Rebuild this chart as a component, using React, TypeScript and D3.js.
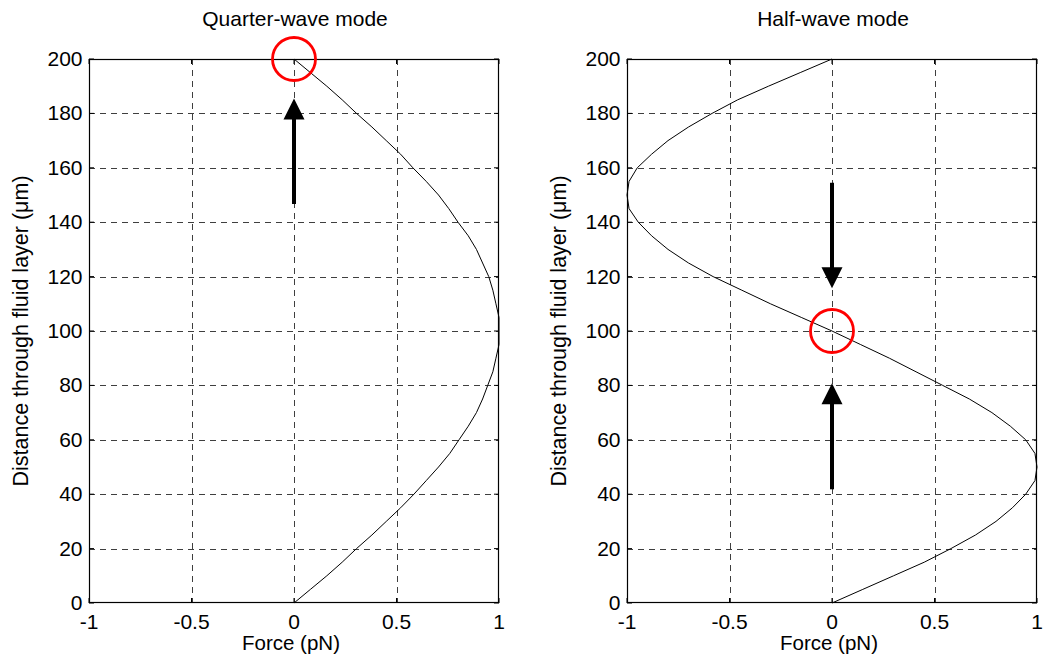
import React from "react";
import * as d3 from "d3";

const depth = [0,5,10,15,20,25,30,35,40,45,50,55,60,65,70,75,80,85,90,95,100,105,110,115,120,125,130,135,140,145,150,155,160,165,170,175,180,185,190,195,200];
const quarterForce = [0,0.08,0.16,0.235,0.305,0.38,0.45,0.52,0.585,0.645,0.705,0.76,0.805,0.85,0.89,0.92,0.945,0.97,0.985,1.0,1.0,1.0,0.985,0.97,0.95,0.92,0.89,0.85,0.8,0.755,0.705,0.645,0.58,0.52,0.45,0.38,0.305,0.235,0.16,0.08,0];
const halfForce = [0,0.15,0.3,0.45,0.58,0.7,0.8,0.88,0.945,0.99,1.0,0.99,0.945,0.87,0.78,0.67,0.54,0.41,0.28,0.14,0,-0.15,-0.3,-0.44,-0.58,-0.7,-0.8,-0.88,-0.945,-0.99,-1.0,-0.99,-0.95,-0.88,-0.8,-0.7,-0.585,-0.46,-0.31,-0.155,0];

const xTicks = [-1,-0.5,0,0.5,1];
const xTickLabels = ["-1","-0.5","0","0.5","1"];
const yTicks = [0,20,40,60,80,100,120,140,160,180,200];

const titles = ["Quarter-wave mode","Half-wave mode"];
const xLabel = "Force (pN)";
const yLabel = "Distance through fluid layer (\u03bcm)";

// annotations in data units: arrows (x, from depth, to depth) and circles (x, depth)
const quarterArrows = [{ x: 0, from: 146.7, to: 185.5 }];
const halfArrows = [{ x: 0, from: 154.5, to: 115.7 }, { x: 0, from: 41.8, to: 80.8 }];
const quarterCircles = [{ x: 0, y: 200 }];
const halfCircles = [{ x: 0, y: 100 }];

const FONT = "'Liberation Sans', Arial, Helvetica, sans-serif";

type Arrow = { x: number; from: number; to: number };
type Circle = { x: number; y: number };

function Panel({ left, title, values, arrows, circles }: { left: number; title: string; values: number[]; arrows: Arrow[]; circles: Circle[] }) {
  const width = 410;
  const top = 59;
  const bottom = 603;
  const x = d3.scaleLinear().domain([-1, 1]).range([left, left + width]);
  const y = d3.scaleLinear().domain([0, 200]).range([bottom, top]);
  const pts: [number, number][] = depth.map((d, i) => [values[i], d]);
  const line = d3.line<[number, number]>().x((p) => x(p[0])).y((p) => y(p[1]));
  const cx = (left + left + width) / 2;
  const headL = 21;
  const headW = 10.5;
  return (
    <g>
      <text x={cx + 1} y={26} textAnchor="middle" fontSize={21} fontFamily={FONT}>{title}</text>
      <rect x={left} y={top} width={width} height={bottom - top} fill="#fff" />
      {/* grid */}
      {xTicks.slice(1, -1).map((t) => (
        <line key={"gx" + t} x1={Math.round(x(t)) + 0.5} x2={Math.round(x(t)) + 0.5} y1={top} y2={bottom} stroke="#000" strokeWidth={1} strokeDasharray="6,5" opacity={0.75} />
      ))}
      {yTicks.slice(1, -1).map((t) => (
        <line key={"gy" + t} x1={left} x2={left + width} y1={Math.round(y(t)) + 0.5} y2={Math.round(y(t)) + 0.5} stroke="#000" strokeWidth={1} strokeDasharray="6,5" opacity={0.75} />
      ))}
      {/* ticks */}
      {xTicks.map((t) => (
        <g key={"tx" + t}>
          <line x1={x(t)} x2={x(t)} y1={bottom} y2={bottom - 5} stroke="#000" />
          <line x1={x(t)} x2={x(t)} y1={top} y2={top + 5} stroke="#000" />
        </g>
      ))}
      {yTicks.map((t) => (
        <g key={"ty" + t}>
          <line x1={left} x2={left + 5} y1={y(t)} y2={y(t)} stroke="#000" />
          <line x1={left + width} x2={left + width - 5} y1={y(t)} y2={y(t)} stroke="#000" />
        </g>
      ))}
      {/* curve */}
      <path d={line(pts) || ""} fill="none" stroke="#000" strokeWidth={1} />
      {/* arrows */}
      {arrows.map((a, i) => {
        const ax = x(a.x);
        const y0 = y(a.from);
        const y1 = y(a.to);
        const dir = y1 < y0 ? -1 : 1;
        const base = y1 - dir * headL;
        return (
          <g key={"a" + i}>
            <line x1={ax} x2={ax} y1={y0} y2={base + dir * 1} stroke="#000" strokeWidth={4} />
            <polygon points={`${ax},${y1} ${ax - headW},${base} ${ax + headW},${base}`} fill="#000" />
          </g>
        );
      })}
      {/* frame */}
      <rect x={left + 0.5} y={top + 0.5} width={width - 1} height={bottom - top - 1} fill="none" stroke="#000" strokeWidth={1.2} />
      {/* circles */}
      {circles.map((c, i) => (
        <circle key={"c" + i} cx={x(c.x)} cy={y(c.y)} r={21.5} fill="none" stroke="#ff0000" strokeWidth={2.8} />
      ))}
      {/* tick labels */}
      {xTicks.map((t, i) => (
        <text key={"lx" + t} x={x(t)} y={628.5} textAnchor="middle" fontSize={21} fontFamily={FONT}>{xTickLabels[i]}</text>
      ))}
      {yTicks.map((t) => (
        <text key={"ly" + t} x={left - 6.5} y={y(t) + 7} textAnchor="end" fontSize={21} fontFamily={FONT}>{String(t)}</text>
      ))}
      <text x={cx - 3} y={650} textAnchor="middle" fontSize={20.5} fontFamily={FONT}>{xLabel}</text>
      <text transform={`translate(${left - 61},${(top + bottom) / 2}) rotate(-90)`} textAnchor="middle" fontSize={21.5} fontFamily={FONT}>{yLabel}</text>
    </g>
  );
}

export default function App() {
  return (
    <svg width={1048} height={670} style={{ position: "absolute", left: 0, top: 0, background: "#fff" }}>
      <rect x={0} y={0} width={1048} height={670} fill="#fff" />
      <Panel left={89} title={titles[0]} values={quarterForce} arrows={quarterArrows} circles={quarterCircles} />
      <Panel left={627} title={titles[1]} values={halfForce} arrows={halfArrows} circles={halfCircles} />
    </svg>
  );
}
